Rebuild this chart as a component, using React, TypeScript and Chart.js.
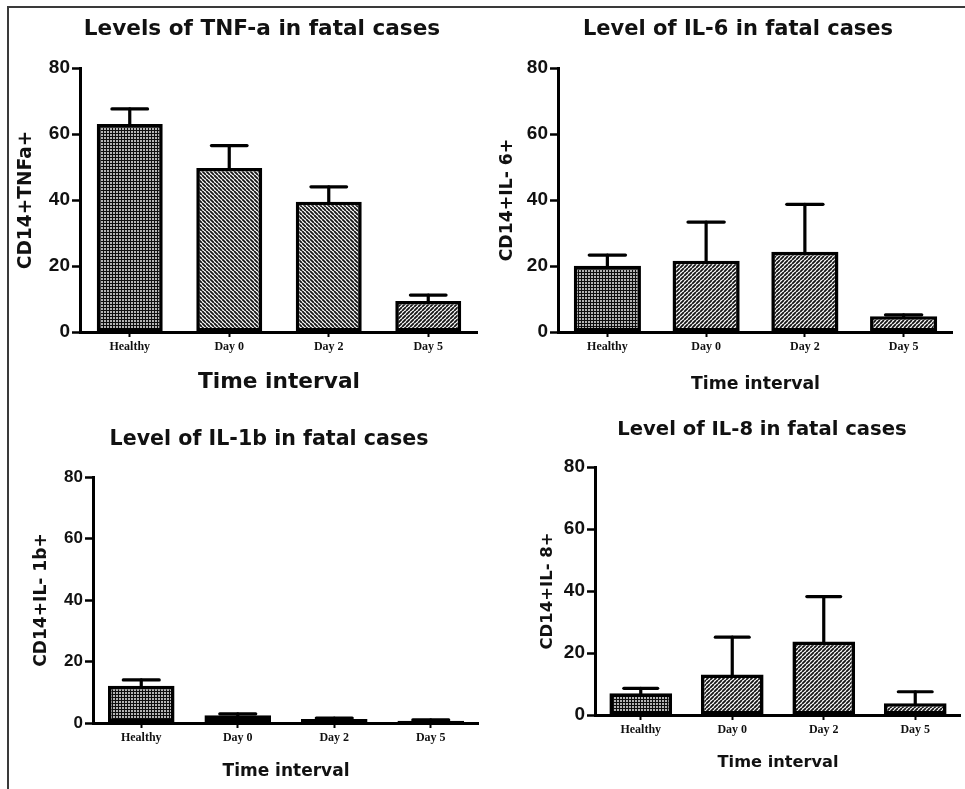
import React, { useEffect, useRef } from "react";
import { Chart, registerables } from "chart.js";

Chart.register(...registerables);

// ---------------- data ----------------
const categories = ["Healthy", "Day 0", "Day 2", "Day 5"];
const yMin = 0;
const yMax = 80;
const yStep = 20;

const tnfMeans = [63.0, 49.7, 39.5, 9.4];
const tnfErrors = [4.6, 6.8, 4.5, 1.8];

const il6Means = [20.1, 21.6, 24.3, 4.8];
const il6Errors = [3.2, 11.7, 14.4, 0.4];

const il1bMeans = [12.1, 2.5, 1.3, 0.7];
const il1bErrors = [1.9, 0.5, 0.3, 0.3];

const il8Means = [7.0, 13.1, 23.7, 3.8];
const il8Errors = [1.6, 12.0, 14.5, 3.7];

const panelTitles = [
  "Levels of TNF-a in fatal cases",
  "Level of IL-6 in fatal cases",
  "Level of IL-1b in fatal cases",
  "Level of IL-8 in fatal cases",
];
const yTitles = ["CD14+TNFa+", "CD14+IL- 6+", "CD14+IL- 1b+", "CD14+IL- 8+"];
const xTitle = "Time interval";

// ---------------- layout / style ----------------
type PanelCfg = {
  means: number[];
  errors: number[];
  title: string;
  yTitle: string;
  patterns: string[];
  canvasLeft: number;
  axisX: number;
  rightX: number;
  titleCX: number;
  titleCY: number;
  topY: number;
  bottomY: number;
  xTitleY: number;
  yTitleX: number;
  titleSize: number;
  yTitleSize: number;
  xTitleSize: number;
  tickSize: number;
  barPct: number;
};

const panels: PanelCfg[] = [
  {
    means: tnfMeans, errors: tnfErrors, title: panelTitles[0], yTitle: yTitles[0],
    patterns: ["dots", "back", "back", "fwd"],
    canvasLeft: 10, axisX: 80, rightX: 478, titleCX: 262, titleCY: 29,
    topY: 68, bottomY: 332, xTitleY: 382, yTitleX: 26,
    titleSize: 21.6, yTitleSize: 18.6, xTitleSize: 21.7, tickSize: 19, barPct: 0.663,
  },
  {
    means: il6Means, errors: il6Errors, title: panelTitles[1], yTitle: yTitles[1],
    patterns: ["dots", "fwd", "fwd", "fwd"],
    canvasLeft: 488, axisX: 558, rightX: 953, titleCX: 738, titleCY: 30,
    topY: 68, bottomY: 332, xTitleY: 385, yTitleX: 508,
    titleSize: 21, yTitleSize: 17.3, xTitleSize: 17.3, tickSize: 19, barPct: 0.68,
  },
  {
    means: il1bMeans, errors: il1bErrors, title: panelTitles[2], yTitle: yTitles[2],
    patterns: ["dots", "fwd", "fwd", "fwd"],
    canvasLeft: 10, axisX: 93, rightX: 479, titleCX: 269, titleCY: 440,
    topY: 477, bottomY: 723, xTitleY: 772, yTitleX: 42,
    titleSize: 20.6, yTitleSize: 17.1, xTitleSize: 17, tickSize: 17, barPct: 0.69,
  },
  {
    means: il8Means, errors: il8Errors, title: panelTitles[3], yTitle: yTitles[3],
    patterns: ["dots", "fwd", "fwd", "fwd"],
    canvasLeft: 490, axisX: 595, rightX: 961, titleCX: 762, titleCY: 430,
    topY: 467, bottomY: 715, xTitleY: 763, yTitleX: 548,
    titleSize: 19.6, yTitleSize: 16.5, xTitleSize: 16.2, tickSize: 19, barPct: 0.685,
  },
];

function makePattern(kind: string): CanvasPattern | string {
  const c = document.createElement("canvas");
  const ctx = c.getContext("2d");
  if (!ctx) return "#777";
  if (kind === "dots") {
    c.width = 3;
    c.height = 3;
    ctx.fillStyle = "#0e0e0e";
    ctx.fillRect(0, 0, 3, 3);
    ctx.fillStyle = "#b4b4b4";
    ctx.fillRect(1, 1, 2, 2);
  } else {
    const s = 4;
    c.width = s;
    c.height = s;
    ctx.fillStyle = "#ffffff";
    ctx.fillRect(0, 0, s, s);
    ctx.strokeStyle = "#151515";
    ctx.lineWidth = 1.8;
    ctx.beginPath();
    for (const o of [-s, 0, s]) {
      if (kind === "back") {
        ctx.moveTo(o, 0);
        ctx.lineTo(o + s, s);
      } else {
        ctx.moveTo(o, s);
        ctx.lineTo(o + s, 0);
      }
    }
    ctx.stroke();
  }
  return ctx.createPattern(c, "repeat") || "#777";
}

const errorBarPlugin = {
  id: "errorBars",
  afterDatasetsDraw(chart: any) {
    const ds = chart.data.datasets[0];
    const errs: number[] = ds.errors || [];
    const meta = chart.getDatasetMeta(0);
    const yScale = chart.scales.y;
    const ctx = chart.ctx;
    ctx.save();
    ctx.strokeStyle = "#000";
    ctx.lineWidth = 3.2;
    ctx.lineCap = "round";
    meta.data.forEach((bar: any, i: number) => {
      const p = bar.getProps(["x", "y", "width"], true);
      const top = yScale.getPixelForValue(ds.data[i] + errs[i]);
      const half = p.width * 0.27;
      ctx.beginPath();
      ctx.moveTo(p.x, p.y);
      ctx.lineTo(p.x, top);
      ctx.stroke();
      ctx.beginPath();
      ctx.moveTo(p.x - half, top);
      ctx.lineTo(p.x + half, top);
      ctx.stroke();
    });
    ctx.restore();
  },
};

const SANS = "'DejaVu Sans', sans-serif";
const TICK_SANS = "'Liberation Sans', Arial, sans-serif";
const SERIF = "'Liberation Serif', 'Times New Roman', serif";

function Panel({ cfg }: { cfg: PanelCfg }) {
  const ref = useRef<HTMLCanvasElement | null>(null);

  const canvasTop = cfg.titleCY - 22;
  const canvasBottom = cfg.xTitleY + 17;
  const width = cfg.rightX - cfg.canvasLeft;
  const height = canvasBottom - canvasTop;
  const yAxisLeft = 2 * cfg.titleCX - cfg.rightX;
  const padL = yAxisLeft - cfg.canvasLeft;
  const yWidth = cfg.axisX - yAxisLeft;
  const xHeight = canvasBottom - cfg.bottomY;

  useEffect(() => {
    if (!ref.current) return;
    const tLh = cfg.titleSize * 1.2;
    const yLh = cfg.yTitleSize * 1.2;
    const xLh = cfg.xTitleSize * 1.2;
    const chart = new Chart(ref.current, {
      type: "bar",
      data: {
        labels: categories,
        datasets: [
          {
            data: cfg.means,
            errors: cfg.errors,
            backgroundColor: cfg.patterns.map((k) => makePattern(k)),
            borderColor: "#000",
            borderWidth: 3.6,
            borderSkipped: false,
            barPercentage: cfg.barPct,
            categoryPercentage: 1,
          } as any,
        ],
      },
      options: {
        animation: false,
        responsive: false,
        devicePixelRatio: 1,
        events: [],
        layout: { padding: { left: padL, right: 0, top: 0, bottom: 0 } },
        plugins: {
          legend: { display: false },
          tooltip: { enabled: false },
          title: {
            display: true,
            text: cfg.title,
            color: "#111",
            font: { family: SANS, size: cfg.titleSize, weight: "bold", lineHeight: 1.2 },
            padding: {
              top: cfg.titleCY - canvasTop - tLh / 2,
              bottom: cfg.topY - cfg.titleCY - tLh / 2,
            },
          },
        },
        scales: {
          x: {
            type: "category",
            offset: true,
            grid: {
              display: true,
              drawOnChartArea: false,
              offset: false,
              tickLength: 5,
              tickWidth: 2,
              color: "#000",
            },
            border: { display: true, width: 3, color: "#000" },
            ticks: {
              color: "#111",
              font: { family: SERIF, size: 12, weight: "bold" },
              padding: 3,
              maxRotation: 0,
              autoSkip: false,
            },
            title: {
              display: true,
              text: xTitle,
              color: "#111",
              font: { family: SANS, size: cfg.xTitleSize, weight: "bold", lineHeight: 1.2 },
              padding: { top: 0, bottom: canvasBottom - cfg.xTitleY - xLh / 2 },
            },
            afterFit: (s: any) => {
              s.height = xHeight;
            },
          },
          y: {
            type: "linear",
            min: yMin,
            max: yMax,
            grid: {
              display: true,
              drawOnChartArea: false,
              tickLength: 8,
              tickWidth: 2.5,
              color: "#000",
            },
            border: { display: true, width: 3, color: "#000" },
            ticks: {
              stepSize: yStep,
              color: "#111",
              font: { family: TICK_SANS, size: cfg.tickSize, weight: "bold" },
              padding: 2,
            },
            title: {
              display: true,
              text: cfg.yTitle,
              color: "#111",
              font: { family: SANS, size: cfg.yTitleSize, weight: "bold", lineHeight: 1.2 },
              padding: { top: cfg.yTitleX - yAxisLeft - yLh / 2, bottom: 0 },
            },
            afterFit: (s: any) => {
              s.width = yWidth;
            },
          },
        },
      } as any,
      plugins: [errorBarPlugin as any],
    });
    return () => chart.destroy();
  }, []);

  return (
    <canvas
      ref={ref}
      width={width}
      height={height}
      style={{
        position: "absolute",
        left: cfg.canvasLeft,
        top: canvasTop,
        width: width,
        height: height,
      }}
    />
  );
}

export default function App() {
  return (
    <div
      style={{
        position: "absolute",
        left: 0,
        top: 0,
        width: 965,
        height: 789,
        overflow: "hidden",
        background: "#ffffff",
      }}
    >
      <div
        style={{
          position: "absolute",
          left: 7,
          top: 6,
          width: 980,
          height: 800,
          borderTop: "2px solid #3a3a3a",
          borderLeft: "2px solid #3a3a3a",
        }}
      />
      {panels.map((p, i) => (
        <Panel key={i} cfg={p} />
      ))}
    </div>
  );
}
